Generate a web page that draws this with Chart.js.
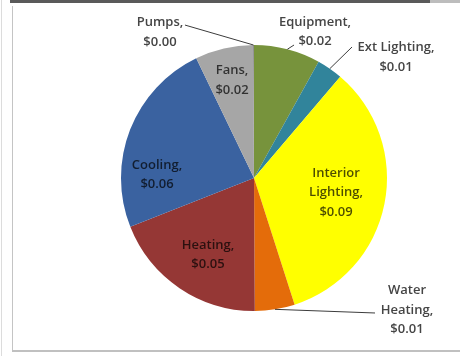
<!DOCTYPE html>
<html>
<head>
<meta charset="utf-8">
<script src="https://cdn.jsdelivr.net/npm/chart.js@4/dist/chart.umd.min.js"></script>
<style>
  html, body { margin: 0; padding: 0; background: #ffffff; }
  #wrap { position: relative; width: 460px; height: 356px; overflow: hidden; }
  #chart { position: absolute; left: 0; top: 0; }
  .rule { position: absolute; }
</style>
</head>
<body>
<div id="wrap">
  <canvas id="chart" width="460" height="356"></canvas>
  <div class="rule" style="left:10px;top:0;width:420px;height:3px;background:#5a5a5a"></div>
  <div class="rule" style="left:430px;top:0;width:30px;height:3px;background:#bdbdbd"></div>
  <div class="rule" style="left:1px;top:0;width:1px;height:356px;background:#dcdcdc"></div>
  <div class="rule" style="left:12px;top:6px;width:1px;height:346px;background:#c4c4c4"></div>
  <div class="rule" style="left:12px;top:350px;width:448px;height:2px;background:#c0c0c0"></div>
</div>
<script>
// Energy cost per end use ($)
const categories = ['Equipment', 'Ext Lighting', 'Interior Lighting', 'Water Heating',
                    'Heating', 'Cooling', 'Fans', 'Pumps'];
const costs = [0.021, 0.0082, 0.088, 0.0126, 0.0497, 0.062, 0.0183, 0.0003];
const sliceColors = ['#77933c', '#31849b', '#ffff00', '#e46c0a',
                     '#953735', '#3a62a0', '#a6a6a6', '#8a8a8a'];

// Label placement, in units of the pie radius relative to its centre.
// lines: how the category name is broken; leader: start of the leader line.
const labelLayout = {
  'Equipment':         { x: 0.459,  y: -1.098, lines: ['Equipment,'],        leader: [0.301, -1.0] },
  'Ext Lighting':      { x: 1.068,  y: -0.906, lines: ['Ext Lighting,'],      leader: [0.737, -0.985] },
  'Interior Lighting': { x: 0.617,  y: 0.109,  lines: ['Interior', 'Lighting,'] },
  'Water Heating':     { x: 1.150,  y: 0.992,  lines: ['Water', 'Heating,'],  leader: [0.910, 1.015] },
  'Heating':           { x: -0.346, y: 0.579,  lines: ['Heating,'] },
  'Cooling':           { x: -0.729, y: -0.023, lines: ['Cooling,'] },
  'Fans':              { x: -0.165, y: -0.733, lines: ['Fans,'] },
  'Pumps':             { x: -0.707, y: -1.094, lines: ['Pumps,'],             leader: [-0.519, -1.150] }
};

const FONT = '600 13px "Open Sans", Lato, sans-serif';
const LINE_H = 19.5;

const dataLabels = {
  id: 'dataLabels',
  afterDatasetsDraw(chart) {
    const ctx = chart.ctx;
    const meta = chart.getDatasetMeta(0);
    const values = chart.data.datasets[0].data;
    ctx.save();
    ctx.font = FONT;
    ctx.textAlign = 'center';
    ctx.textBaseline = 'middle';
    meta.data.forEach((arc, i) => {
      const name = chart.data.labels[i];
      const lay = labelLayout[name];
      const r = arc.outerRadius;
      const cx = arc.x, cy = arc.y;
      const lines = lay.lines.concat(['$' + values[i].toFixed(2)]);
      const tx = cx + lay.x * r;
      const ty = cy + lay.y * r;
      if (lay.leader) {
        const mid = (arc.startAngle + arc.endAngle) / 2;
        ctx.beginPath();
        ctx.strokeStyle = '#3c3c3c';
        ctx.lineWidth = 1;
        ctx.moveTo(cx + lay.leader[0] * r, cy + lay.leader[1] * r);
        ctx.lineTo(cx + Math.cos(mid) * r, cy + Math.sin(mid) * r);
        ctx.stroke();
        ctx.fillStyle = '#454545';
      } else {
        ctx.fillStyle = 'rgba(0,0,0,0.7)';
      }
      const top = ty - (lines.length - 1) * LINE_H / 2;
      lines.forEach((t, k) => ctx.fillText(t, tx, top + k * LINE_H));
    });
    ctx.restore();
  }
};

new Chart(document.getElementById('chart'), {
  type: 'pie',
  data: {
    labels: categories,
    datasets: [{
      data: costs,
      backgroundColor: sliceColors,
      borderWidth: 0
    }]
  },
  options: {
    responsive: false,
    animation: false,
    layout: { padding: { top: 45, bottom: 45, left: 121, right: 73 } },
    plugins: {
      legend: { display: false },
      tooltip: { enabled: false }
    }
  },
  plugins: [dataLabels]
});
</script>
</body>
</html>
